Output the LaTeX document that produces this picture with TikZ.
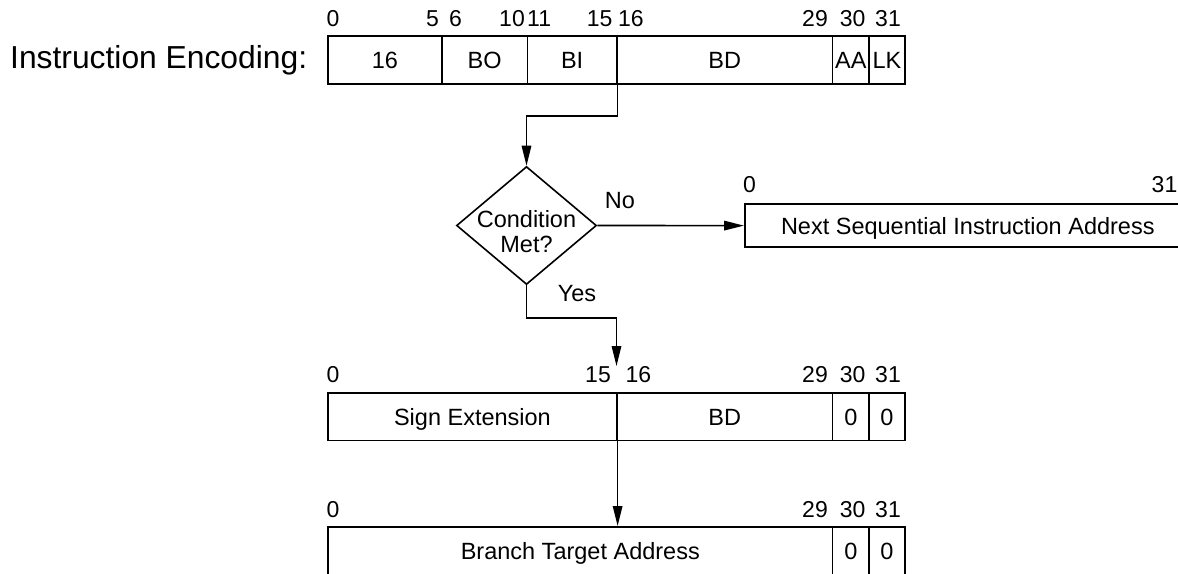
\documentclass[tikz,border=0pt]{standalone}
\usepackage{fontspec}
\setmainfont{Liberation Sans}
\usetikzlibrary{shapes.geometric,arrows.meta}
\begin{document}
\begin{tikzpicture}[x=1pt,y=-1pt,
  lw/.style={line width=1.6pt},
  cell/.style={draw,line width=1.6pt,rectangle,inner sep=0pt,minimum height=48pt,anchor=north west,text height=17pt,text depth=0pt,font=\fontsize{23.5}{25}\selectfont},
  bitlbl/.style={inner sep=0pt,font=\fontsize{23}{24}\selectfont},
  lbl/.style={inner sep=0pt,font=\fontsize{23.5}{25}\selectfont},
  conn/.style={line width=1.6pt,-{Triangle[length=20pt,width=9.5pt]}},
]
\useasboundingbox (0,0) rectangle (1178,573);
\clip (0,0) rectangle (1178,573);

% title
\node[inner sep=0pt,anchor=base west,font=\fontsize{31.8}{36}\selectfont] (title) at (10,68) {Instruction Encoding:};

% instruction encoding fields
\node[cell,minimum width=113.7pt] (f0) at (327.3,35.3) {16};
\node[cell,minimum width=85.7pt]  (f1) at (441,35.3) {BO};
\node[cell,minimum width=89.3pt]  (f2) at (526.7,35.3) {BI};
\node[cell,minimum width=215.7pt] (f3) at (616,35.3) {BD};
\node[cell,minimum width=36.6pt]  (f4) at (831.7,35.3) {AA};
\node[cell,minimum width=35.7pt]  (f5) at (868.3,35.3) {LK};

\node[bitlbl,anchor=base west] (t0)  at (326.5,26.8) {0};
\node[bitlbl,anchor=base east] (t5)  at (439,26.8) {5};
\node[bitlbl,anchor=base west] (t6)  at (449,26.8) {6};
\node[bitlbl,anchor=base east] (t10) at (525,26.8) {10};
\node[bitlbl,anchor=base west] (t11) at (527,26.8) {11};
\node[bitlbl,anchor=base east] (t15) at (612.7,26.8) {15};
\node[bitlbl,anchor=base west] (t16) at (618,26.8) {16};
\node[bitlbl,anchor=base east] (t29) at (828,26.8) {29};
\node[bitlbl,anchor=base] (t30) at (852.7,26.8) {30};
\node[bitlbl,anchor=base] (t31) at (888,26.8) {31};

% decision
\node[diamond,draw,lw,inner sep=0pt,minimum width=140pt,minimum height=118pt] (dia) at (526.5,225.5) {};
\node[lbl,align=center,anchor=base] (dtxt) at (526.5,252.4) {Condition\\Met?};

\draw[conn] (f2.south east) -- ++(0,31) -| (dia.north);

% next sequential
\node[cell,minimum width=446pt,minimum height=43pt] (nsia) at (744,203.3) {Next Sequential Instruction Address};
\node[bitlbl,anchor=base west] (n0)  at (743,192.3) {0};
\node[bitlbl,anchor=base east] (n31) at (1177.5,192.3) {31};

\draw[conn] (dia.east) -- (nsia.west);
\node[lbl,anchor=base] (no) at (620,208.5) {No};
\node[lbl,anchor=base] (yes) at (577,301.5) {Yes};

\coordinate (yesturn) at (616.5,318);
\coordinate (yesend) at (616.5,366);
\draw[conn] (dia.south) |- (yesturn) -- (yesend);

% sign-extended
\node[cell,minimum width=288.7pt,minimum height=47.5pt] (s0) at (327.3,392) {Sign Extension};
\node[cell,minimum width=215.7pt,minimum height=47.5pt] (s1) at (616,392) {BD};
\node[cell,minimum width=36.6pt,minimum height=47.5pt]  (s2) at (831.7,392) {0};
\node[cell,minimum width=35.7pt,minimum height=47.5pt]  (s3) at (868.3,392) {0};

\node[bitlbl,anchor=base west] (u0)  at (326.5,382.3) {0};
\node[bitlbl,anchor=base east] (u15) at (611,382.3) {15};
\node[bitlbl,anchor=base west] (u16) at (625.5,382.3) {16};
\node[bitlbl,anchor=base east] (u29) at (828,382.3) {29};
\node[bitlbl,anchor=base] (u30) at (852.7,382.3) {30};
\node[bitlbl,anchor=base] (u31) at (888,382.3) {31};

% branch target
\node[cell,minimum width=504.4pt] (b0) at (327.3,526) {Branch Target Address};
\node[cell,minimum width=36.6pt]  (b1) at (831.7,526) {0};
\node[cell,minimum width=35.7pt]  (b2) at (868.3,526) {0};

\node[bitlbl,anchor=base west] (v0)  at (326.5,517.3) {0};
\node[bitlbl,anchor=base east] (v29) at (828,517.3) {29};
\node[bitlbl,anchor=base] (v30) at (852.7,517.3) {30};
\node[bitlbl,anchor=base] (v31) at (888,517.3) {31};

\draw[conn] (s0.south east) -- (s0.south east |- b0.north);
\end{tikzpicture}
\end{document}
